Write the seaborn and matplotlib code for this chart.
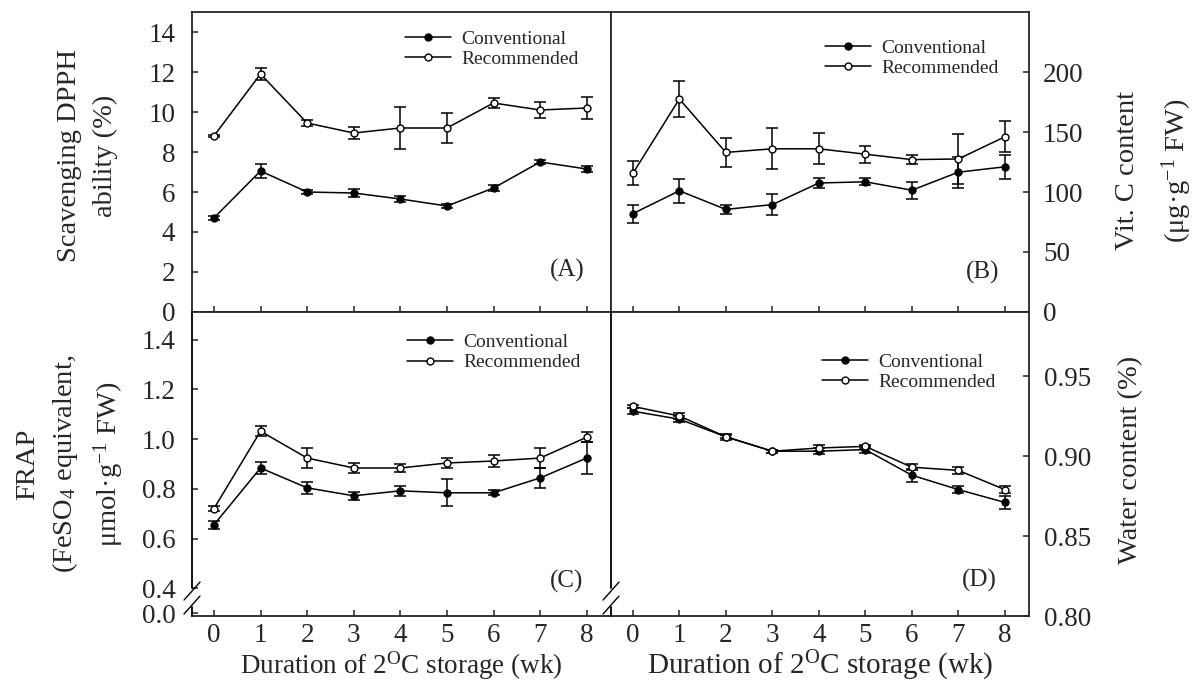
import numpy as np
import pandas as pd
import matplotlib.pyplot as plt
import seaborn as sns

###############################################################
#                 Data
###############################################################
weeks = [0, 1, 2, 3, 4, 5, 6, 7, 8]
treatments = ["Conventional", "Recommended"]

# (A) scavenging DPPH ability (%)
dpph_conv = [4.7, 7.05, 6.0, 5.95, 5.65, 5.3, 6.2, 7.5, 7.15]
dpph_conv_err = [0.08, 0.35, 0.1, 0.2, 0.15, 0.1, 0.15, 0.1, 0.15]
dpph_rec = [8.8, 11.9, 9.45, 8.95, 9.2, 9.2, 10.45, 10.1, 10.2]
dpph_rec_err = [0.05, 0.3, 0.15, 0.3, 1.05, 0.75, 0.25, 0.4, 0.55]

# (B) vit. C content (ug/g FW)
vitc_conv = [82, 101, 85.5, 89.5, 107.5, 108.5, 101.5, 116.5, 121]
vitc_conv_err = [7.5, 10, 4, 9, 4, 3, 7, 13, 10]
vitc_rec = [115.5, 177.5, 133, 136, 136, 131.5, 127, 127.5, 146]
vitc_rec_err = [10, 15, 12, 17, 13, 7, 4, 21, 13]

# (C) FRAP (umol FeSO4 eq / g FW)
frap_conv = [0.655, 0.884, 0.804, 0.772, 0.792, 0.784, 0.784, 0.844, 0.924]
frap_conv_err = [0.015, 0.025, 0.025, 0.015, 0.02, 0.055, 0.01, 0.04, 0.065]
frap_rec = [0.72, 1.032, 0.924, 0.884, 0.884, 0.904, 0.912, 0.924, 1.008]
frap_rec_err = [0.01, 0.02, 0.04, 0.02, 0.015, 0.02, 0.025, 0.04, 0.02]

# (D) water content
water_conv = [0.928, 0.923, 0.912, 0.903, 0.903, 0.904, 0.888, 0.879, 0.871]
water_conv_err = [0.002, 0.002, 0.002, 0.001, 0.002, 0.002, 0.004, 0.002, 0.004]
water_rec = [0.931, 0.925, 0.912, 0.903, 0.905, 0.906, 0.893, 0.891, 0.879]
water_rec_err = [0.001, 0.002, 0.001, 0.001, 0.002, 0.001, 0.002, 0.002, 0.002]

# y axes
dpph_ticks = [0, 2, 4, 6, 8, 10, 12, 14]
vitc_ticks = [0, 50, 100, 150, 200]
frap_ticks = [0.3, 0.4, 0.6, 0.8, 1.0, 1.2, 1.4]
frap_ticklabels = ["0.0", "0.4", "0.6", "0.8", "1.0", "1.2", "1.4"]
water_ticks = [0.80, 0.85, 0.90, 0.95]

###############################################################
#                 Style
###############################################################
sns.set_style("ticks")
plt.rcParams["font.family"] = ["Liberation Serif", "DejaVu Serif"]
plt.rcParams["mathtext.fontset"] = "custom"
plt.rcParams["mathtext.rm"] = "Liberation Serif"
plt.rcParams["mathtext.it"] = "Liberation Serif:italic"
plt.rcParams["axes.linewidth"] = 1.3

TICK_FS = 19.5
LABEL_FS = 20.5
XLABEL = r"Duration of 2$^{\mathrm{O}}$C storage (wk)"

W, H = 1203, 687
fig = plt.figure(figsize=(W / 100, H / 100), dpi=100)


def px_axes(x0, y0, x1, y1):
    return fig.add_axes([x0 / W, 1 - y1 / H, (x1 - x0) / W, (y1 - y0) / H])


ax_a = px_axes(192, 12, 611, 312)
ax_b = px_axes(611, 12, 1029, 312)
ax_c = px_axes(192, 312, 611, 616)
ax_d = px_axes(611, 312, 1029, 616)


def draw_panel(ax, conv, conv_err, rec, rec_err):
    df = pd.DataFrame({
        "week": weeks * 2,
        "value": conv + rec,
        "err": conv_err + rec_err,
        "treatment": [treatments[0]] * len(weeks) + [treatments[1]] * len(weeks),
    })
    for name, face in zip(treatments, ["black", "white"]):
        d = df[df["treatment"] == name]
        ax.errorbar(d["week"], d["value"], yerr=d["err"], fmt="none",
                    ecolor="black", elinewidth=1.1, capsize=4, capthick=1.1, zorder=2)
        sns.lineplot(data=d, x="week", y="value", ax=ax, color="black", lw=1.1,
                     marker="o", markersize=5, markerfacecolor=face,
                     markeredgecolor="black", markeredgewidth=1.0,
                     errorbar=None, label=name, zorder=3)
    ax.set_xlim(-0.47, 8.52)
    ax.set_xticks(weeks)
    ax.set_xlabel("")
    ax.set_ylabel("")
    ax.tick_params(direction="in", length=4, width=1.1, labelsize=TICK_FS)
    ax.tick_params(axis="x", pad=5)


def place_legend(ax, x, y):
    ax.legend(loc="upper left", bbox_to_anchor=(x, y), frameon=False, fontsize=14,
              handlelength=2.35, handletextpad=0.55, labelspacing=0.15,
              borderpad=0, borderaxespad=0, numpoints=1)


def break_left(ax):
    # broken left spine near the bottom with a pair of slashes
    ax.spines["left"].set_visible(False)
    kw = dict(transform=ax.transAxes, color="black", lw=1.3, clip_on=False, zorder=5)
    lo, hi = 0.03, 0.092
    ax.plot([0, 0], [hi, 1], **kw)
    ax.plot([0, 0], [0, lo], **kw)
    dx, dy = 8 / 419, 9 / 304
    for yc in (0.082, 0.036):
        ax.plot([-dx, dx], [yc - dy, yc + dy], transform=ax.transAxes,
                color="black", lw=1.0, clip_on=False, zorder=5)


# ---------------- (A)
draw_panel(ax_a, dpph_conv, dpph_conv_err, dpph_rec, dpph_rec_err)
ax_a.set_ylim(0, 15)
ax_a.set_yticks(dpph_ticks)
ax_a.tick_params(axis="y", pad=12)
ax_a.tick_params(axis="x", labelbottom=False)
ax_a.set_ylabel("Scavenging DPPH\nability (%)", fontsize=LABEL_FS, linespacing=1.55)
ax_a.yaxis.set_label_coords(-0.25, 0.52)
ax_a.yaxis.label.set_verticalalignment("center")
place_legend(ax_a, 0.508, 0.94)
ax_a.text(0.895, 0.14, "(A)", transform=ax_a.transAxes, fontsize=18, ha="center", va="center")

# ---------------- (B)
draw_panel(ax_b, vitc_conv, vitc_conv_err, vitc_rec, vitc_rec_err)
ax_b.set_ylim(0, 250)
ax_b.yaxis.tick_right()
ax_b.yaxis.set_label_position("right")
ax_b.set_yticks(vitc_ticks)
ax_b.tick_params(axis="y", pad=10)
ax_b.tick_params(axis="x", labelbottom=False)
ax_b.set_ylabel("Vit. C content\n(μg·g$^{-1}$ FW)", fontsize=LABEL_FS, linespacing=1.75,
                rotation=90)
ax_b.yaxis.set_label_coords(1.30, 0.47)
ax_b.yaxis.label.set_verticalalignment("center")
place_legend(ax_b, 0.512, 0.91)
ax_b.text(0.89, 0.133, "(B)", transform=ax_b.transAxes, fontsize=18, ha="center", va="center")

# ---------------- (C)
draw_panel(ax_c, frap_conv, frap_conv_err, frap_rec, frap_rec_err)
ax_c.set_ylim(0.288, 1.512)
ax_c.set_yticks(frap_ticks)
ax_c.set_yticklabels(frap_ticklabels)
ax_c.tick_params(axis="y", pad=12)
ax_c.set_ylabel("FRAP\n(FeSO$_4$ equivalent,\nμmol·g$^{-1}$ FW)", fontsize=LABEL_FS,
                linespacing=1.45)
ax_c.yaxis.set_label_coords(-0.29, 0.5)
ax_c.yaxis.label.set_verticalalignment("center")
ax_c.set_xlabel(XLABEL, fontsize=19.5, labelpad=1)
ax_c.spines["right"].set_visible(False)
break_left(ax_c)
place_legend(ax_c, 0.513, 0.93)
ax_c.text(0.893, 0.112, "(C)", transform=ax_c.transAxes, fontsize=18, ha="center", va="center")

# ---------------- (D)
draw_panel(ax_d, water_conv, water_conv_err, water_rec, water_rec_err)
ax_d.set_ylim(0.80, 0.99)
ax_d.yaxis.tick_right()
ax_d.yaxis.set_label_position("right")
ax_d.set_yticks(water_ticks)
ax_d.set_yticklabels([f"{t:.2f}" for t in water_ticks])
ax_d.tick_params(axis="y", pad=11)
ax_d.set_ylabel("Water content (%)", fontsize=LABEL_FS, rotation=90)
ax_d.yaxis.set_label_coords(1.242, 0.513)
ax_d.yaxis.label.set_verticalalignment("center")
ax_d.set_xlabel(XLABEL, fontsize=21, labelpad=1)
break_left(ax_d)
place_legend(ax_d, 0.505, 0.865)
ax_d.text(0.88, 0.118, "(D)", transform=ax_d.transAxes, fontsize=18, ha="center", va="center")

fig.savefig("out.png", dpi=100)
